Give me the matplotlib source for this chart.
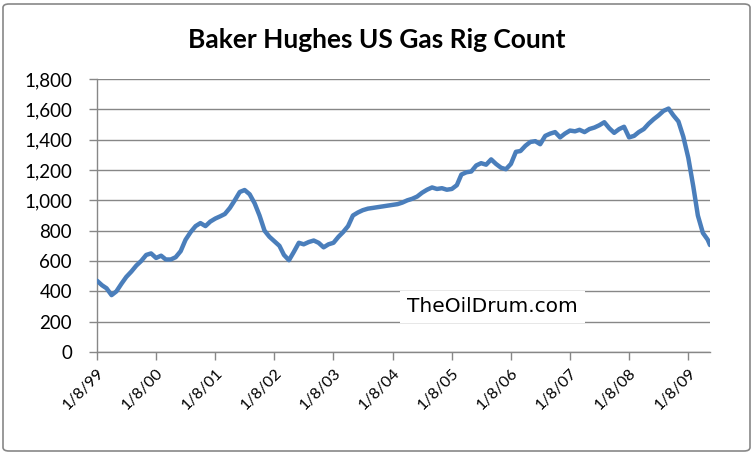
import datetime as dt
import matplotlib
matplotlib.use("Agg")
import matplotlib.pyplot as plt
import matplotlib.patches as patches
from matplotlib.ticker import FuncFormatter

# monthly readings (8th of each month), Jan 1999 .. May 2009, plus final week
rigs_1999 = [470, 440, 420, 375, 400, 450, 495, 530, 570, 600, 640, 650]
rigs_2000 = [620, 635, 610, 610, 625, 665, 740, 790, 830, 850, 830, 860]
rigs_2001 = [880, 895, 910, 950, 1000, 1055, 1068, 1040, 980, 900, 800, 760]
rigs_2002 = [730, 700, 640, 605, 660, 720, 710, 725, 735, 720, 690, 710]
rigs_2003 = [720, 760, 790, 830, 900, 920, 935, 945, 950, 955, 960, 965]
rigs_2004 = [970, 975, 985, 1000, 1010, 1025, 1050, 1070, 1085, 1075, 1080, 1070]
rigs_2005 = [1075, 1100, 1170, 1185, 1190, 1230, 1245, 1235, 1270, 1240, 1215, 1205]
rigs_2006 = [1240, 1320, 1325, 1360, 1385, 1390, 1370, 1425, 1440, 1450, 1415, 1440]
rigs_2007 = [1460, 1455, 1465, 1450, 1470, 1480, 1495, 1515, 1475, 1445, 1470, 1485]
rigs_2008 = [1415, 1425, 1450, 1470, 1505, 1535, 1560, 1590, 1605, 1560, 1520, 1420]
rigs_2009 = [1280, 1090, 900, 785, 740]
last_date = dt.date(2009, 5, 22)
last_value = 705

tick_labels = ["1/8/99", "1/8/00", "1/8/01", "1/8/02", "1/8/03", "1/8/04",
               "1/8/05", "1/8/06", "1/8/07", "1/8/08", "1/8/09"]

values = (rigs_1999 + rigs_2000 + rigs_2001 + rigs_2002 + rigs_2003 + rigs_2004
          + rigs_2005 + rigs_2006 + rigs_2007 + rigs_2008 + rigs_2009)
dates = [dt.date(1999 + i // 12, i % 12 + 1, 8) for i in range(len(values))]
dates.append(last_date)
values.append(last_value)
tick_dates = [dt.date(1999 + i, 1, 8) for i in range(len(tick_labels))]

plt.rcParams["font.family"] = ["Lato", "DejaVu Sans"]
grey = "#878787"

fig = plt.figure(figsize=(7.54, 4.54), dpi=100)
ax = fig.add_axes([97 / 754, 1 - 352 / 454, (710 - 97) / 754, (352 - 79) / 454])

ax.plot(dates, values, color="#4A7EBB", lw=3.2, solid_capstyle="round", zorder=3)

ax.set_xlim(dates[0], last_date)
ax.set_ylim(0, 1800)
ax.set_yticks(range(0, 1801, 200))
ax.yaxis.set_major_formatter(FuncFormatter(lambda v, p: f"{int(v):,}"))
ax.set_xticks(tick_dates)
ax.set_xticklabels(tick_labels, rotation=45, ha="right", va="top",
                   rotation_mode="anchor")

ax.grid(axis="y", color=grey, lw=1)
ax.set_axisbelow(True)
for s in ["top", "right"]:
    ax.spines[s].set_visible(False)
for s in ["left", "bottom"]:
    ax.spines[s].set_color(grey)
    ax.spines[s].set_linewidth(1)
ax.tick_params(axis="both", colors=grey, length=6, width=1, labelcolor="black")
ax.tick_params(axis="y", pad=12, labelsize=13.5)
ax.tick_params(axis="x", pad=4, labelsize=11.5)

fig.text(0.5, 1 - 40 / 454, "Baker Hughes US Gas Rig Count", ha="center",
         va="center", fontsize=19, fontweight="bold")

ax.text(407 / 754, 1 - 307 / 454, "TheOilDrum.com", transform=fig.transFigure,
        fontsize=14.5, ha="left", va="center", family="DejaVu Sans",
        bbox=dict(facecolor="white", edgecolor="none", pad=5), zorder=4)

fig.patches.append(patches.FancyBboxPatch(
    (3 / 754, 3 / 454), 747 / 754, 447 / 454, boxstyle="round,pad=0,rounding_size=0.008",
    transform=fig.transFigure, fill=False, edgecolor=grey, lw=1.2))

fig.savefig("out.png", dpi=100)
